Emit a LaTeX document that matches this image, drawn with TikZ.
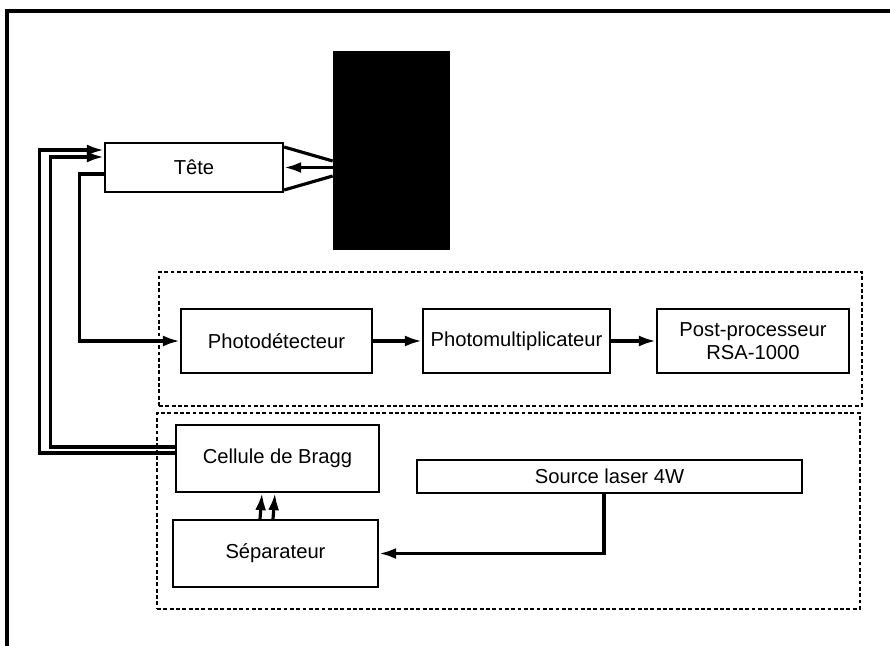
\documentclass[tikz,border=0pt]{standalone}
\usepackage{fontspec}
\setmainfont{Liberation Sans}
\usetikzlibrary{arrows.meta, positioning, calc}

\begin{document}
\begin{tikzpicture}[x=0.02cm, y=-0.02cm, font=\fontsize{11.5}{13}\selectfont,
        boite/.style={draw, line width=1.3pt, inner sep=2pt, align=center},
        zone/.style={draw, line width=1.1pt, dash pattern=on 2.2pt off 1.4pt, inner sep=0pt},
        fleche/.style={-{Latex[length=3.4mm, width=2.2mm]}, line width=1.8pt}]
        \useasboundingbox (0,0) rectangle (890,646);
        \draw[line width=2.2pt] (7,646) -- (7,11) -- (890,11);

        % zones en pointille
        \node[zone, minimum width=14.06cm, minimum height=2.68cm] (zoneA) at (510.5,339) {};
        \node[zone, minimum width=14.06cm, minimum height=3.92cm] (zoneB) at (508.5,511) {};

        \node[boite, minimum width=3.56cm, minimum height=0.98cm] (tete) at (194,167.5) {Tête};
        \node[draw, fill=black, minimum width=2.32cm, minimum height=3.96cm] (cible) at (391,150) {};

        \node[boite, minimum width=3.82cm, minimum height=1.28cm] (photodet) at (276.5,341) {Photodétecteur};
        \node[boite, minimum width=3.74cm, minimum height=1.28cm] (photomult) at (516.5,341) {Photomultiplicateur};
        \node[boite, minimum width=3.84cm, minimum height=1.28cm] (post) at (753,341) {Post-processeur\\RSA-1000};

        \node[boite, minimum width=4.06cm, minimum height=1.34cm] (bragg) at (277.5,458.5) {Cellule de Bragg};
        \node[boite, minimum width=4.10cm, minimum height=1.34cm] (separ) at (275.5,553.5) {Séparateur};
        \node[boite, minimum width=7.70cm, minimum height=0.66cm] (laser) at (609.5,476.5) {Source laser 4W};

        % faisceau tete - cible
        \draw[line width=1.8pt] ([yshift=0.41cm]tete.east) -- ([yshift=-0.22cm]cible.west);
        \draw[line width=1.8pt] ([yshift=-0.45cm]tete.east) -- ([yshift=-0.52cm]cible.west);
        \draw[fleche] (cible.west |- tete.east) -- (tete.east);

        \draw[fleche] ([yshift=0.11cm]bragg.west) -| ([xshift=-1.28cm, yshift=0.35cm]tete.west) -- ([yshift=0.35cm]tete.west);
        \draw[fleche] ([yshift=0.23cm]bragg.west) -| ([xshift=-1.06cm, yshift=0.21cm]tete.west) -- ([yshift=0.21cm]tete.west);
        \draw[fleche] ([yshift=-0.13cm]tete.west) -- ++(-0.48cm,0) |- (photodet.west);

        \draw[fleche] (photodet) -- (photomult);
        \draw[fleche] (photomult) -- (post);

        \draw[fleche] ([xshift=-0.31cm]separ.north) -- ([xshift=-0.31cm]bragg.south);
        \draw[fleche] ([xshift=-0.05cm]separ.north) -- ([xshift=-0.05cm]bragg.south);
        \draw[fleche] ([xshift=-0.11cm]laser.south) |- (separ.east);
    \end{tikzpicture}
\end{document}
